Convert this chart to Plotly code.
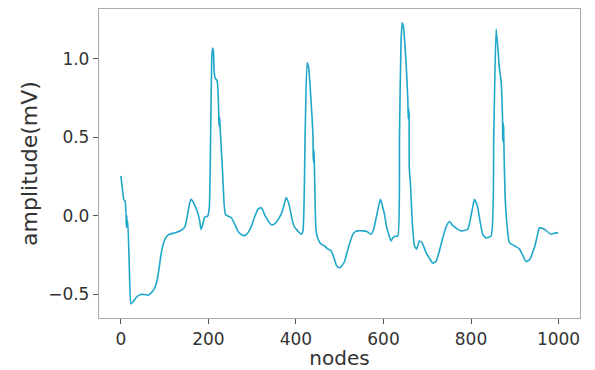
import plotly.graph_objects as go

nodes = [0, 4, 6.5, 9.5, 11, 11.4, 11.8, 12.2, 12.6, 13, 13.4, 13.8, 15.6, 19, 23, 27, 32, 38, 46, 54, 62, 69.5, 77, 81, 84, 88, 92, 99, 105, 111, 126,
         141, 146, 149, 153, 156.6, 160, 164, 168, 175.6, 180, 183, 187, 191, 198.5, 202, 205, 207.6, 209.5, 211.4, 213, 215, 220, 223.5, 224, 224.4, 224.8, 225.2,
         225.6, 226, 226.4, 229, 232.6, 236, 239, 244, 252, 258, 263, 268, 274.5, 280, 286, 292, 297.5, 305, 313, 320, 324, 328, 335, 343, 349, 355, 361, 366, 372, 377.5,
         381, 385, 391, 396.6, 404, 412, 416, 421, 425.5, 429, 435, 439, 439.4, 439.8, 440.2, 440.6, 441, 441.4, 443, 446, 451, 457.5,
         465, 472.7, 480, 486, 491.6, 495, 499.4, 504, 511, 520, 530, 536, 541.5, 553, 563, 572, 578, 583.4, 588, 593, 597, 602.3, 607, 612, 617.6, 621, 627, 632.8, 636.6,
         640, 642.7, 645.7, 651.8, 655.5, 656.6, 657, 657.4, 657.8, 658.2, 658.6, 659, 661.7, 666, 670.8, 676, 682, 688, 697.3, 705, 712.5,
         720, 728, 735.4, 743, 750.6, 758, 765.9, 777.3, 792.5, 800, 807.8, 811, 815.4, 821, 826.8, 834.4, 845.9, 852, 857.3, 861, 864.9, 868.6, 872,
         872.4, 872.8, 873.2, 873.6, 874, 874.4, 874.8, 877.7, 882, 887.6, 899, 910.5, 918, 925.7, 933.3, 945, 952, 956.1, 967.6, 982.8, 990, 999]

amplitude = [0.255, 0.16, 0.106, 0.095, 0.05, 0.02, 0.03, -0.06, 0.01, -0.075, 0.0, -0.06, -0.03, -0.3, -0.56, -0.55, -0.53, -0.51, -0.50, -0.50, -0.505, -0.49, -0.46,
             -0.43, -0.39, -0.32, -0.24, -0.16, -0.13, -0.117, -0.106, -0.085, -0.07, -0.04, 0.02, 0.074, 0.106, 0.095, 0.074, 0.02, -0.03, -0.085, -0.054, -0.01, 0.0,
             0.053, 0.5, 1.0, 1.07, 1.05, 0.93, 0.88, 0.86, 0.66, 0.58, 0.64, 0.57, 0.63, 0.57, 0.62, 0.58, 0.45, 0.265, 0.07, 0.01, 0.0, -0.01,
             -0.04, -0.07, -0.1, -0.117, -0.125, -0.12, -0.1, -0.07, -0.01, 0.042, 0.053, 0.04, 0.01, -0.025, -0.054, -0.055, -0.04, -0.015, 0.01, 0.06, 0.117, 0.1, 0.064, -0.02, -0.07, -0.095, -0.117,
             -0.095, 0.52, 0.976, 0.945, 0.71, 0.5, 0.36, 0.43, 0.34, 0.42, 0.35, 0.40, 0.2, -0.095, -0.15, -0.18, -0.19,
             -0.21, -0.22, -0.26, -0.31, -0.325, -0.33, -0.32, -0.29, -0.2, -0.117, -0.1, -0.095, -0.095, -0.1, -0.117, -0.08, -0.01, 0.05, 0.106, 0.07, 0.01, -0.07, -0.117, -0.16, -0.14, -0.13,
             -0.127, 0.52, 1.1, 1.23, 1.20, 0.966, 0.75, 0.62, 0.69, 0.615, 0.68, 0.62, 0.66, 0.3, 0.20, -0.05, -0.19, -0.21, -0.16,
             -0.17, -0.233, -0.27, -0.30, -0.29, -0.22, -0.14, -0.07, -0.035, -0.06, -0.077, -0.095, -0.085, 0.0, 0.106, 0.09, 0.053, -0.04, -0.117, -0.14, -0.127,
             0.52, 1.19, 1.08, 0.94, 0.86, 0.62, 0.48, 0.60, 0.47, 0.59, 0.48, 0.57, 0.5, 0.14, -0.05, -0.17, -0.19, -0.21, -0.25, -0.29,
             -0.28, -0.2, -0.12, -0.077, -0.085, -0.117, -0.11, -0.106]

x_ticks = [0, 200, 400, 600, 800, 1000]
y_ticks = [-0.5, 0.0, 0.5, 1.0]
y_tick_text = ["\u22120.5", "0.0", "0.5", "1.0"]

fig = go.Figure()
fig.add_trace(go.Scatter(x=nodes, y=amplitude, mode="lines",
                         line=dict(color="#1fa7c9", width=1.6, shape="spline", smoothing=0.5),
                         showlegend=False))

axis_font = dict(family="DejaVu Sans", size=17, color="#333333")
fig.update_layout(
    width=587, height=362,
    margin=dict(l=91, r=15, t=1, b=52),
    paper_bgcolor="white", plot_bgcolor="white",
    font=dict(family="DejaVu Sans", color="#333333"),
)
fig.update_xaxes(range=[-50, 1049], tickvals=x_ticks, ticks="outside", ticklen=5,
                 tickcolor="#555555", showgrid=False, zeroline=False,
                 showline=True, mirror=True, linecolor="#aaaaaa", linewidth=1.3,
                 tickfont=axis_font, automargin=False,
                 title=dict(text="nodes", font=dict(family="DejaVu Sans", size=20, color="#333333"), standoff=2))
fig.update_yaxes(range=[-0.65, 1.318], tickvals=y_ticks, ticktext=y_tick_text, ticks="outside", ticklen=5,
                 tickcolor="#555555", showgrid=False, zeroline=False,
                 showline=True, mirror=True, linecolor="#aaaaaa", linewidth=1.3,
                 tickfont=axis_font, automargin=False,
                 title=dict(text="amplitude(mV)", font=dict(family="DejaVu Sans", size=22, color="#333333"), standoff=4))

fig.write_html("out.html")
